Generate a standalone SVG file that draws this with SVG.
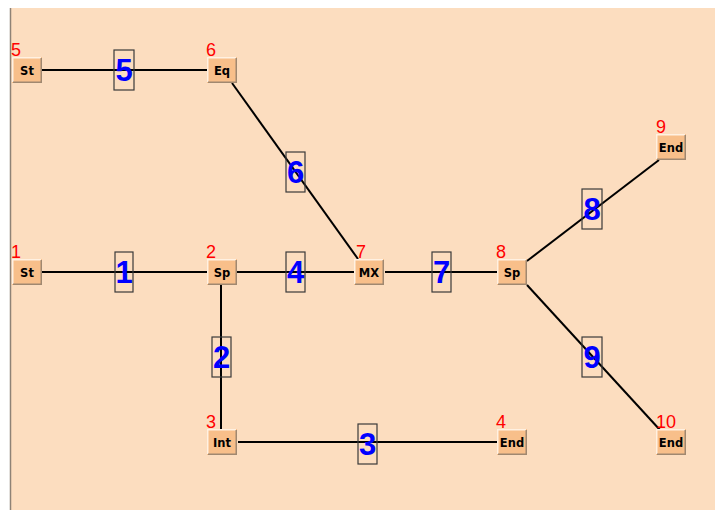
<svg xmlns="http://www.w3.org/2000/svg" width="715" height="510" viewBox="0 0 715 510">
<style>
.nt{font-family:"DejaVu Sans",sans-serif;font-weight:bold;font-size:11.5px;fill:#000;text-anchor:middle}
.num{font-family:"Liberation Sans",sans-serif;font-size:18px;fill:#FF0000}
.edge line{stroke:#000;stroke-width:2}
.lb rect{fill:none;stroke:#3A3A3A;stroke-width:1.2}
.lb text{font-family:"Liberation Sans",sans-serif;font-weight:bold;font-size:31px;fill:#0000FF;text-anchor:middle}
</style>
<defs>
<g id="box">
<rect x="0" y="0" width="30" height="26" fill="#F8BF8A"/>
<polyline points="0.75,25 0.75,0.75 29,0.75" fill="none" stroke="#FFF1E2" stroke-width="1.5"/>
<polyline points="1,25.25 29.25,25.25 29.25,1" fill="none" stroke="#A08870" stroke-width="1.5"/>
</g>
</defs>
<rect x="0" y="0" width="715" height="510" fill="#FFFFFF"/>
<rect x="10" y="8" width="705" height="502" fill="#FCDDBF"/>
<line x1="10.5" y1="8" x2="10.5" y2="510" stroke="#8E8276" stroke-width="1.5"/>
<g id="connectors" class="edge">
<line x1="42" y1="70" x2="207" y2="70"/>
<line x1="42" y1="272" x2="207" y2="272"/>
<line x1="221" y1="285" x2="221" y2="429"/>
<line x1="238" y1="442" x2="497" y2="442"/>
<line x1="237" y1="272" x2="354" y2="272"/>
<line x1="232" y1="83" x2="358" y2="259"/>
<line x1="385" y1="272" x2="497" y2="272"/>
<line x1="527" y1="261" x2="659" y2="160"/>
<line x1="527" y1="285" x2="660" y2="430"/>
</g>
<g id="edge-labels" class="lb">
<g id="el1"><rect x="115" y="252" width="18" height="40"/><text x="124" y="283">1</text></g>
<g id="el2"><rect x="212" y="337" width="19" height="40"/><text x="221.5" y="368">2</text></g>
<g id="el3"><rect x="358" y="424" width="19" height="40"/><text x="367.5" y="455">3</text></g>
<g id="el4"><rect x="286" y="252" width="19" height="40"/><text x="295.5" y="283">4</text></g>
<g id="el5"><rect x="114" y="50" width="20" height="40"/><text x="124" y="81">5</text></g>
<g id="el6"><rect x="286" y="152" width="19" height="40"/><text x="295.5" y="183">6</text></g>
<g id="el7"><rect x="432" y="252" width="19" height="40"/><text x="441.5" y="283">7</text></g>
<g id="el8"><rect x="582" y="189" width="20" height="40"/><text x="592" y="220">8</text></g>
<g id="el9"><rect x="582" y="337" width="20" height="40"/><text x="592" y="368">9</text></g>
</g>
<g id="n1" class="node"><use href="#box" x="12" y="259"/><text class="nt" x="27" y="276.5">St</text><text class="num" x="11" y="258">1</text></g>
<g id="n2" class="node"><use href="#box" x="207" y="259"/><text class="nt" x="222" y="276.5">Sp</text><text class="num" x="206" y="258">2</text></g>
<g id="n3" class="node"><use href="#box" x="207" y="429"/><text class="nt" x="222" y="446.5">Int</text><text class="num" x="206" y="428">3</text></g>
<g id="n4" class="node"><use href="#box" x="497" y="429"/><text class="nt" x="512" y="446.5">End</text><text class="num" x="496" y="428">4</text></g>
<g id="n5" class="node"><use href="#box" x="12" y="57"/><text class="nt" x="27" y="74.5">St</text><text class="num" x="11" y="56">5</text></g>
<g id="n6" class="node"><use href="#box" x="207" y="57"/><text class="nt" x="222" y="74.5">Eq</text><text class="num" x="206" y="56">6</text></g>
<g id="n7" class="node"><use href="#box" x="354" y="259"/><text class="nt" x="369" y="276.5">MX</text><text class="num" x="356" y="258">7</text></g>
<g id="n8" class="node"><use href="#box" x="497" y="259"/><text class="nt" x="512" y="276.5">Sp</text><text class="num" x="496" y="258">8</text></g>
<g id="n9" class="node"><use href="#box" x="656" y="134"/><text class="nt" x="671" y="151.5">End</text><text class="num" x="656" y="133">9</text></g>
<g id="n10" class="node"><use href="#box" x="656" y="429"/><text class="nt" x="671" y="446.5">End</text><text class="num" x="656" y="428">10</text></g>
</svg>
